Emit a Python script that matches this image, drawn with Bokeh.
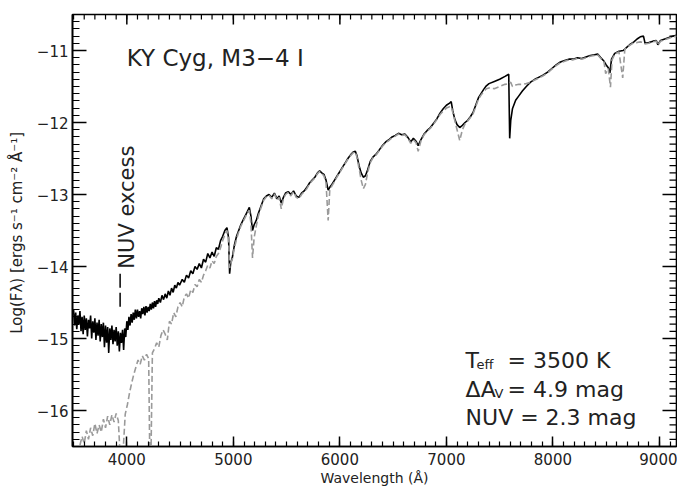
from bokeh.plotting import figure
from bokeh.models import Range1d, FixedTicker, Label
from bokeh.embed import file_html
from bokeh.resources import INLINE
from math import pi

# ---------------- data ----------------
# observed spectrum (black), blue part
obs_wave_blue = [3500, 3510, 3520, 3530, 3540, 3550, 3560, 3570, 3580, 3590,
                 3600, 3610, 3620, 3630, 3640, 3650, 3660, 3670, 3680, 3690,
                 3700, 3710, 3720, 3730, 3740, 3750, 3760, 3770, 3780, 3790,
                 3800, 3810, 3820, 3830, 3840, 3850, 3860, 3870, 3880, 3890,
                 3900, 3910, 3920, 3930, 3940, 3950, 3960, 3970, 3980, 3990,
                 4000, 4010, 4020, 4030, 4040, 4050, 4060, 4070, 4080, 4090,
                 4100, 4110, 4120, 4130, 4140, 4150, 4160, 4170, 4180, 4190,
                 4200, 4210, 4220, 4230, 4240, 4250, 4260, 4270, 4280, 4290,
                 4300, 4315, 4330, 4345, 4360, 4375, 4390, 4405, 4420, 4435,
                 4450, 4465, 4480, 4495]
obs_flux_blue = [-14.60, -14.82, -14.64, -14.87, -14.68, -14.80, -14.62, -14.90, -14.70, -14.94,
                 -14.68, -14.88, -14.72, -14.97, -14.74, -14.86, -14.68, -15.00, -14.76, -14.92,
                 -14.72, -15.02, -14.78, -14.96, -14.74, -15.04, -14.80, -14.98, -14.78, -15.12,
                 -14.82, -15.06, -14.84, -15.20, -14.86, -15.02, -14.82, -15.08, -14.88, -15.04,
                 -14.84, -15.10, -14.90, -15.18, -14.92, -15.06, -14.88, -15.16, -14.86, -14.98,
                 -14.76, -14.88, -14.70, -14.82, -14.66, -14.78, -14.64, -14.74, -14.60, -14.72,
                 -14.60, -14.70, -14.62, -14.72, -14.58, -14.66, -14.56, -14.68, -14.55, -14.64,
                 -14.56, -14.62, -14.52, -14.60, -14.50, -14.58, -14.48, -14.56, -14.47, -14.52,
                 -14.44, -14.50, -14.40, -14.46, -14.38, -14.44, -14.34, -14.40, -14.30, -14.36,
                 -14.26, -14.30, -14.22, -14.26]

# observed spectrum (black), red part
obs_wave_red = [4520, 4540, 4560, 4580, 4600, 4620, 4640, 4660, 4680, 4700,
                4720, 4740, 4760, 4780, 4800, 4820, 4840, 4860, 4880, 4900,
                4920, 4940, 4955, 4965, 4975, 4990, 5010, 5030, 5050, 5070,
                5090, 5110, 5130, 5150, 5165, 5180, 5195, 5215, 5235, 5260,
                5285, 5310, 5335, 5360, 5385, 5410, 5430, 5450, 5470, 5490,
                5515, 5540, 5565, 5590, 5615, 5640, 5665, 5690, 5715, 5740,
                5765, 5790, 5810, 5830, 5850, 5870, 5890, 5905, 5925, 5950,
                5975, 6000, 6025, 6050, 6075, 6100, 6125, 6145, 6160, 6180,
                6200, 6220, 6240, 6260, 6285, 6310, 6340, 6370, 6400, 6430,
                6460, 6490, 6520, 6550, 6580, 6610, 6640, 6665, 6690, 6715,
                6735, 6760, 6790, 6820, 6850, 6880, 6910, 6940, 6970, 7000,
                7030, 7045, 7060, 7080, 7100, 7125, 7150, 7175, 7200, 7225,
                7250, 7275, 7300, 7325, 7350, 7375, 7400, 7450, 7500, 7550,
                7585, 7594, 7604, 7620, 7650, 7680, 7715, 7750, 7790, 7830,
                7870, 7910, 7950, 7990, 8030, 8070, 8110, 8150, 8190, 8230,
                8270, 8310, 8350, 8390, 8420, 8450, 8480, 8500, 8520, 8535,
                8550, 8580, 8620, 8660, 8690, 8720, 8760, 8790, 8820, 8850,
                8865, 8900, 8940, 8970, 8985, 9010, 9050, 9090, 9130, 9160]
obs_flux_red = [-14.18, -14.22, -14.12, -14.16, -14.06, -14.10, -14.00, -14.04, -13.96, -14.02,
                -13.90, -13.94, -13.82, -13.88, -13.80, -13.86, -13.74, -13.76, -13.64, -13.58,
                -13.50, -13.46, -13.60, -14.10, -13.95, -13.88, -13.70, -13.58, -13.50, -13.42,
                -13.36, -13.30, -13.24, -13.18, -13.30, -13.50, -13.42, -13.36, -13.26, -13.16,
                -13.06, -13.02, -13.00, -13.04, -12.98, -13.06, -13.02, -13.12, -13.04, -12.98,
                -12.96, -13.00, -12.95, -13.02, -13.04, -12.98, -12.95, -12.90, -12.84, -12.80,
                -12.76, -12.70, -12.67, -12.70, -12.72, -12.80, -12.94, -12.90, -12.86, -12.80,
                -12.74, -12.68, -12.62, -12.56, -12.50, -12.45, -12.41, -12.40, -12.46, -12.60,
                -12.70, -12.76, -12.74, -12.66, -12.54, -12.48, -12.44, -12.38, -12.32, -12.27,
                -12.24, -12.20, -12.18, -12.15, -12.17, -12.16, -12.21, -12.27, -12.22, -12.26,
                -12.32, -12.24, -12.16, -12.11, -12.07, -12.01, -11.95, -11.87, -11.81, -11.76,
                -11.73, -11.71, -11.84, -11.96, -12.03, -12.07, -12.04, -12.00, -11.97, -11.92,
                -11.86, -11.76, -11.66, -11.60, -11.54, -11.49, -11.46, -11.43, -11.40, -11.36,
                -11.33, -12.22, -11.97, -11.81, -11.69, -11.63, -11.56, -11.50, -11.44, -11.40,
                -11.37, -11.34, -11.30, -11.25, -11.20, -11.16, -11.14, -11.12, -11.12, -11.10,
                -11.11, -11.09, -11.07, -11.06, -11.05, -11.10, -11.15, -11.20, -11.24, -11.31,
                -11.12, -11.04, -11.01, -11.00, -10.96, -10.92, -10.88, -10.84, -10.81, -10.80,
                -10.90, -10.89, -10.87, -10.86, -10.92, -10.86, -10.84, -10.82, -10.80, -10.79]

# model spectrum (grey, dashed), blue part
model_wave_blue = [3540, 3560, 3580, 3600, 3620, 3640, 3660, 3680, 3700, 3720,
                   3740, 3760, 3780, 3800, 3820, 3840, 3860, 3880, 3900, 3920,
                   3940, 3960, 3985, 4005, 4025, 4045, 4065, 4085, 4105, 4125,
                   4145, 4165, 4185, 4205, 4216, 4226, 4240, 4260, 4280, 4300,
                   4320, 4340, 4360, 4380, 4400, 4420, 4440, 4460, 4480, 4500]
model_flux_blue = [-16.60, -16.48, -16.36, -16.46, -16.28, -16.40, -16.24, -16.35, -16.18, -16.32,
                   -16.20, -16.30, -16.12, -16.24, -16.08, -16.20, -16.06, -16.16, -16.04, -16.14,
                   -16.70, -16.70, -16.05, -15.92, -15.76, -15.62, -15.50, -15.40, -15.30, -15.36,
                   -15.24, -15.30, -15.22, -15.28, -16.70, -16.70, -15.20, -15.14, -15.06, -15.12,
                   -14.96, -14.88, -14.94, -15.02, -14.76, -14.80, -14.64, -14.70, -14.56, -14.50]

# model spectrum (grey, dashed), red part
model_wave_red = [4520, 4540, 4560, 4580, 4600, 4620, 4640, 4660, 4680, 4700,
                  4720, 4740, 4760, 4780, 4800, 4820, 4840, 4860, 4880, 4900,
                  4920, 4940, 4955, 4965, 4975, 4990, 5010, 5030, 5050, 5070,
                  5090, 5110, 5130, 5150, 5165, 5180, 5195, 5215, 5235, 5260,
                  5285, 5310, 5335, 5360, 5385, 5410, 5430, 5450, 5470, 5490,
                  5515, 5540, 5565, 5590, 5615, 5640, 5665, 5690, 5715, 5740,
                  5765, 5790, 5810, 5830, 5850, 5870, 5890, 5905, 5925, 5950,
                  5975, 6000, 6025, 6050, 6075, 6100, 6125, 6145, 6160, 6180,
                  6200, 6220, 6240, 6260, 6285, 6310, 6340, 6370, 6400, 6430,
                  6460, 6490, 6520, 6550, 6580, 6610, 6640, 6665, 6690, 6715,
                  6735, 6760, 6790, 6820, 6850, 6880, 6910, 6940, 6970, 7000,
                  7030, 7045, 7060, 7080, 7100, 7125, 7150, 7175, 7200, 7225,
                  7250, 7275, 7300, 7325, 7350, 7375, 7400, 7450, 7500, 7550,
                  7585, 7594, 7604, 7620, 7650, 7680, 7715, 7750, 7790, 7830,
                  7870, 7910, 7950, 7990, 8030, 8070, 8110, 8150, 8190, 8230,
                  8270, 8310, 8350, 8390, 8420, 8450, 8480, 8495, 8520, 8540,
                  8555, 8580, 8620, 8655, 8675, 8720, 8760, 8790, 8820, 8850,
                  8865, 8900, 8940, 8970, 8985, 9010, 9050, 9090, 9130, 9160]
model_flux_red = [-14.56, -14.42, -14.38, -14.44, -14.32, -14.36, -14.25, -14.28, -14.18, -14.22,
                  -14.12, -14.06, -13.98, -14.02, -13.92, -13.96, -13.86, -13.82, -13.74, -13.64,
                  -13.56, -13.50, -13.62, -14.02, -13.96, -13.90, -13.74, -13.62, -13.52, -13.44,
                  -13.38, -13.32, -13.26, -13.22, -13.40, -13.88, -13.60, -13.44, -13.30, -13.18,
                  -13.08, -13.03, -13.01, -13.06, -12.99, -13.08, -13.04, -13.20, -13.06, -13.00,
                  -12.97, -13.02, -12.96, -13.04, -13.06, -13.00, -12.96, -12.92, -12.85, -12.81,
                  -12.77, -12.71, -12.68, -12.71, -12.74, -12.84, -13.36, -12.94, -12.88, -12.82,
                  -12.75, -12.69, -12.63, -12.57, -12.51, -12.46, -12.42, -12.41, -12.48, -12.64,
                  -12.80, -12.92, -12.86, -12.70, -12.56, -12.49, -12.45, -12.39, -12.33, -12.28,
                  -12.25, -12.21, -12.19, -12.16, -12.18, -12.17, -12.22, -12.29, -12.24, -12.28,
                  -12.40, -12.26, -12.17, -12.12, -12.08, -12.02, -11.96, -11.89, -11.84, -11.80,
                  -11.78, -11.78, -11.86, -11.98, -12.10, -12.25, -12.10, -12.02, -11.98, -11.93,
                  -11.88, -11.78, -11.68, -11.62, -11.57, -11.53, -11.52, -11.53, -11.50, -11.47,
                  -11.46, -11.45, -11.44, -11.50, -11.48, -11.47, -11.47, -11.46, -11.44, -11.41,
                  -11.38, -11.35, -11.31, -11.26, -11.21, -11.17, -11.15, -11.13, -11.13, -11.11,
                  -11.12, -11.10, -11.08, -11.07, -11.06, -11.11, -11.16, -11.32, -11.25, -11.51,
                  -11.13, -11.05, -11.02, -11.38, -10.98, -10.93, -10.89, -10.89, -10.88, -10.89,
                  -10.91, -10.90, -10.88, -10.87, -10.93, -10.87, -10.85, -10.83, -10.81, -10.80]

# "NUV excess" marker
nuv_marker_wave = [3937, 3937]
nuv_marker_flux = [-14.10, -14.57]

# axis ticks
x_ticks = [4000, 5000, 6000, 7000, 8000, 9000]
x_tick_labels = ["4000", "5000", "6000", "7000", "8000", "9000"]
y_ticks = [-16, -15, -14, -13, -12, -11]
y_tick_labels = ["\u221216", "\u221215", "\u221214", "\u221213", "\u221212", "\u221211"]
x_minor = [3500 + 100 * i for i in range(57)]
y_minor = [round(-16.5 + 0.1 * i, 1) for i in range(61)]

X_LO, X_HI = 3490, 9160
Y_LO, Y_HI = -16.5, -10.5

# ---------------- figure ----------------
FONT = "DejaVu Sans"
TXT = "#222222"

p = figure(width=677, height=488,
           x_range=Range1d(X_LO, X_HI), y_range=Range1d(Y_LO, Y_HI),
           output_backend="svg", toolbar_location=None,
           min_border_left=72, min_border_right=1,
           min_border_top=14, min_border_bottom=42)
p.grid.visible = False
p.outline_line_color = "black"
p.outline_line_width = 1.6
p.background_fill_color = "white"
p.border_fill_color = "white"


def style(ax, ticker, major_len, minor_len):
    ax.ticker = ticker
    ax.axis_line_color = "black"
    ax.axis_line_width = 1.6
    ax.major_tick_line_color = "black"
    ax.minor_tick_line_color = "black"
    ax.major_tick_line_width = 1.5
    ax.minor_tick_line_width = 1.2
    ax.major_tick_in = major_len
    ax.major_tick_out = 0
    ax.minor_tick_in = minor_len
    ax.minor_tick_out = 0
    ax.major_label_text_font = FONT
    ax.major_label_text_font_size = "15px"
    ax.major_label_text_color = TXT
    ax.axis_label_text_font = FONT
    ax.axis_label_text_font_style = "normal"
    ax.axis_label_text_color = TXT


xa = p.xaxis[0]
style(xa, FixedTicker(ticks=x_ticks, minor_ticks=x_minor), 10, 5)
xa.major_label_overrides = dict(zip(x_ticks, x_tick_labels))
xa.major_label_standoff = 6
xa.axis_label = "Wavelength (\u00c5)"
xa.axis_label_text_font_size = "14px"
xa.axis_label_standoff = 2

ya = p.yaxis[0]
style(ya, FixedTicker(ticks=y_ticks, minor_ticks=y_minor), 14, 7)
ya.major_label_overrides = dict(zip(y_ticks, y_tick_labels))
ya.major_label_standoff = 4
ya.axis_label = "Log(F\u03bb)  [ergs s\u207b\u00b9 cm\u207b\u00b2 \u00c5\u207b\u00b9]"
ya.axis_label_text_font_size = "15px"
ya.axis_label_standoff = 8

# mirrored inward ticks on the top and right edges (no labels)
p.ray(x=x_ticks, y=Y_HI, length=10, length_units="screen", angle=-pi / 2,
      line_color="black", line_width=1.5)
p.ray(x=x_minor, y=Y_HI, length=5, length_units="screen", angle=-pi / 2,
      line_color="black", line_width=1.2)
p.ray(x=X_HI, y=y_ticks, length=14, length_units="screen", angle=pi,
      line_color="black", line_width=1.5)
p.ray(x=X_HI, y=y_minor, length=7, length_units="screen", angle=pi,
      line_color="black", line_width=1.2)

# spectra
obs_wave = obs_wave_blue + obs_wave_red
obs_flux = obs_flux_blue + obs_flux_red
model_wave = model_wave_blue + model_wave_red
model_flux = model_flux_blue + model_flux_red

p.line(obs_wave, obs_flux, line_color="black", line_width=1.6)
p.line(model_wave, model_flux, line_color="#9a9a9a", line_width=1.6, line_dash="6 3")

# NUV marker and annotations
p.line(nuv_marker_wave, nuv_marker_flux, line_color="black", line_width=1.5, line_dash="14 5")

p.add_layout(Label(x=4000, y=-11.10, text="KY Cyg, M3\u22124 I", text_font=FONT,
                   text_font_size="23px", text_color=TXT, text_baseline="alphabetic"))
p.add_layout(Label(x=4000, y=-14.03, text="NUV excess", angle=pi / 2, text_font=FONT,
                   text_font_size="21px", text_color=TXT, text_baseline="alphabetic",
                   text_align="left"))

ax0 = 7180
big = "22px"
small = "13px"
p.add_layout(Label(x=ax0, y=-15.31, text="T", text_font=FONT, text_font_size=big,
                   text_color=TXT, text_baseline="alphabetic"))
p.add_layout(Label(x=ax0, y=-15.31, x_offset=11, y_offset=-4, text="eff", text_font=FONT,
                   text_font_size=small, text_color=TXT, text_baseline="alphabetic"))
p.add_layout(Label(x=ax0, y=-15.31, x_offset=42, text="= 3500 K", text_font=FONT,
                   text_font_size=big, text_color=TXT, text_baseline="alphabetic"))

p.add_layout(Label(x=ax0, y=-15.71, text="\u0394A", text_font=FONT, text_font_size=big,
                   text_color=TXT, text_baseline="alphabetic"))
p.add_layout(Label(x=ax0, y=-15.71, x_offset=29, y_offset=-4, text="V", text_font=FONT,
                   text_font_size=small, text_color=TXT, text_baseline="alphabetic"))
p.add_layout(Label(x=ax0, y=-15.71, x_offset=42, text="= 4.9 mag", text_font=FONT,
                   text_font_size=big, text_color=TXT, text_baseline="alphabetic"))

p.add_layout(Label(x=ax0, y=-16.10, text="NUV = 2.3 mag", text_font=FONT,
                   text_font_size=big, text_color=TXT, text_baseline="alphabetic"))

open("out.html", "w").write(file_html(p, INLINE))
